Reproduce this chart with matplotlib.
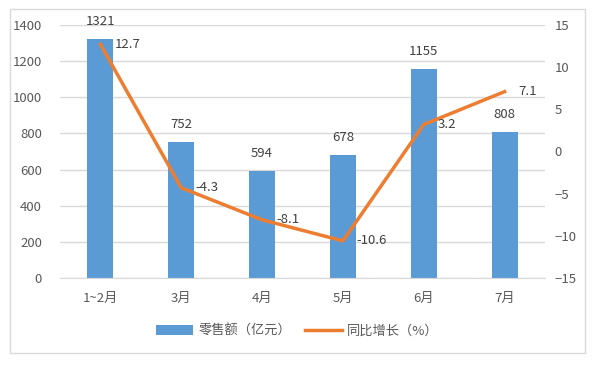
import matplotlib.pyplot as plt
from matplotlib.patches import Rectangle

plt.rcParams['font.family'] = ['Noto Sans CJK SC', 'DejaVu Sans']

months = ['1~2月', '3月', '4月', '5月', '6月', '7月']
sales = [1321, 752, 594, 678, 1155, 808]
growth = [12.7, -4.3, -8.1, -10.6, 3.2, 7.1]

blue = '#5B9BD5'
orange = '#ED7D31'
grey = '#595959'

fig = plt.figure(figsize=(5.95, 3.67), dpi=100)
fig.patches.append(Rectangle((10/595, 1-353/367), 575/595, 344/367,
                             transform=fig.transFigure, fill=False,
                             edgecolor='#D9D9D9', lw=1))
ax = fig.add_axes([60/595, 1-278/367, 485/595, 253/367])
ax2 = ax.twinx()

x = list(range(len(months)))
ax.bar(x, sales, width=0.32, color=blue, zorder=2, label='零售额（亿元）')
ax.set_ylim(0, 1400)
ax.set_yticks(range(0, 1401, 200))
ax.set_xlim(-0.5, len(months) - 0.5)
ax.set_xticks(x)
ax.set_xticklabels(months)
ax.grid(axis='y', color='#D9D9D9', lw=1, zorder=0)
ax.set_axisbelow(True)
for s in ['top', 'left', 'right']:
    ax.spines[s].set_visible(False)
    ax2.spines[s].set_visible(False)
ax.spines['bottom'].set_color('#D9D9D9')
ax2.spines['bottom'].set_visible(False)
ax.tick_params(length=0, colors=grey, labelsize=9.5, pad=10)
ax.tick_params(axis='y', pad=13)
ax2.tick_params(length=0, colors=grey, labelsize=9.5, pad=7)

for i, v in enumerate(sales):
    ax.annotate(str(v), (i, v), xytext=(0, 8), textcoords='offset points',
                ha='center', va='bottom', color='#404040', fontsize=9.5)

ax2.plot(x, growth, color=orange, lw=2.5, zorder=3, label='同比增长（%）')
ax2.set_ylim(-15, 15)
ax2.set_yticks(range(-15, 16, 5))
for i, v in enumerate(growth):
    ax2.annotate(str(v), (i, v), xytext=(10, 0), textcoords='offset points',
                 ha='left', va='center', color='#404040', fontsize=9.5)

h1, l1 = ax.get_legend_handles_labels()
h2, l2 = ax2.get_legend_handles_labels()
fig.legend(h1 + h2, l1 + l2, loc='center', bbox_to_anchor=(0.5, 1-331/367),
           ncol=2, frameon=False, fontsize=9.5, labelcolor=grey,
           handlelength=2.8, columnspacing=1.0, handletextpad=0.4)

fig.savefig('out.png', dpi=100)
